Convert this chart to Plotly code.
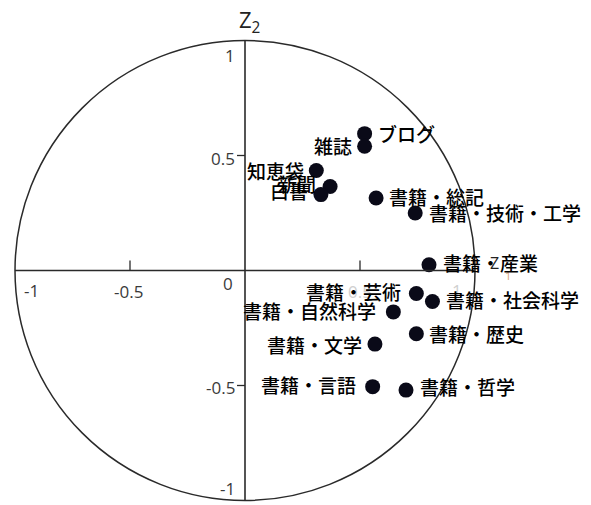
import plotly.graph_objects as go

# Component loadings on the first two principal components (Z1, Z2)
names = [
    "ブログ", "雑誌", "知恵袋", "新聞", "白書",
    "書籍・総記", "書籍・技術・工学", "書籍・産業", "書籍・芸術",
    "書籍・社会科学", "書籍・自然科学", "書籍・歴史", "書籍・文学",
    "書籍・言語", "書籍・哲学",
]
z1 = [0.52, 0.52, 0.31, 0.37, 0.33,
      0.57, 0.74, 0.80, 0.745,
      0.815, 0.645, 0.745, 0.565,
      0.555, 0.70]
z2 = [0.595, 0.54, 0.435, 0.365, 0.33,
      0.315, 0.25, 0.025, -0.10,
      -0.135, -0.18, -0.275, -0.32,
      -0.505, -0.52]

# label placement: side of the dot, pixel shifts
label_side = ["r", "l", "l", "l", "l",
              "r", "r", "r", "l",
              "r", "l", "r", "l",
              "l", "r"]
label_dx = [11, -11, -10, -12, -11,
            11, 12, 12, -13,
            12, -15, 11, -11,
            -15, 12]
label_dy = [0, 1, 0, 3, 4,
            2, 1, 2, 2,
            2, 1, 0, 0,
            2, 4]

x_ticks = [-1, -0.5, 0, 0.5, 1]
x_tick_text = ["-1", "-0.5", "0", "0.5", "1"]
y_ticks = [1, 0.5, -0.5, -1]
y_tick_text = ["1", "0.5", "-0.5", "-1"]

W, H = 591, 505
CX, CY, R = 245, 270.5, 230  # origin pixel and unit length
x_range = [-CX / R, (W - CX) / R]
y_range = [(CY - H) / R, CY / R]

AX = "#2a2a2a"
JP = "Noto Sans CJK JP"
NUM = "Open Sans"

fig = go.Figure()

fig.add_trace(go.Scatter(
    x=z1, y=z2, mode="markers",
    marker=dict(size=15, color="#0a0a18", line=dict(width=0)),
    hoverinfo="text", text=names, showlegend=False,
))

shapes = [
    # unit circle
    dict(type="circle", xref="x", yref="y", x0=-1, y0=-1, x1=1, y1=1,
         line=dict(color=AX, width=1.5)),
    # axes through the origin
    dict(type="line", xref="x", yref="y", x0=-1, y0=0, x1=1, y1=0,
         line=dict(color=AX, width=1.6)),
    dict(type="line", xref="x", yref="y", x0=0, y0=-1, x1=0, y1=1,
         line=dict(color=AX, width=1.6)),
]
tick_len = 10 / R
for v in x_ticks:
    if v in (-0.5, 0.5):
        shapes.append(dict(type="line", xref="x", yref="y", x0=v, x1=v,
                           y0=0, y1=tick_len, line=dict(color=AX, width=1.3)))
for v in y_ticks:
    if v in (-0.5, 0.5):
        shapes.append(dict(type="line", xref="x", yref="y", x0=-tick_len * 0.8, x1=0,
                           y0=v, y1=v, line=dict(color=AX, width=1.3)))

annotations = []

# x tick labels (the positive side is washed out)
x_tick_dx = {-1: 16, -0.5: -2, 0: -17, 0.5: 0, 1: -18}
x_tick_dy = {-1: -20, -0.5: -21, 0: -13, 0.5: -21, 1: -20}
for v, t in zip(x_ticks, x_tick_text):
    faint = v > 0
    annotations.append(dict(
        x=v, y=0, xref="x", yref="y", text=t, showarrow=False,
        xanchor="center", yanchor="middle",
        xshift=x_tick_dx[v], yshift=x_tick_dy[v],
        font=dict(family=NUM, size=17, color="#d0d0d0" if faint else "#3a3a3a"),
    ))

# y tick labels
y_tick_dy = {1: -14.5, 0.5: -2.5, -0.5: -1.5, -1: 12.5}
for v, t in zip(y_ticks, y_tick_text):
    annotations.append(dict(
        x=0, y=v, xref="x", yref="y", text=t, showarrow=False,
        xanchor="right", yanchor="middle",
        xshift=-8, yshift=y_tick_dy[v],
        font=dict(family=NUM, size=17, color="#3a3a3a"),
    ))

# axis titles
annotations.append(dict(
    x=0, y=1, xref="x", yref="y", text="Z<sub>2</sub>", showarrow=False,
    xanchor="center", yanchor="bottom", xshift=4, yshift=1,
    font=dict(family=NUM, size=22, color="#222222"),
))
annotations.append(dict(
    x=1, y=0, xref="x", yref="y", text="Z", showarrow=False,
    xanchor="center", yanchor="middle", xshift=19, yshift=8,
    font=dict(family=NUM, size=16, color="#222222"),
))
annotations.append(dict(
    x=1, y=0, xref="x", yref="y", text="1", showarrow=False,
    xanchor="center", yanchor="middle", xshift=33, yshift=-5,
    font=dict(family=NUM, size=11, color="#d9a070"),
))

# point labels
for n, x, y, s, dx, dy in zip(names, z1, z2, label_side, label_dx, label_dy):
    annotations.append(dict(
        x=x, y=y, xref="x", yref="y", text=n, showarrow=False,
        xanchor="left" if s == "r" else "right", yanchor="middle",
        xshift=dx, yshift=dy,
        font=dict(family=JP, size=19, color="#000000", weight=500),
    ))

fig.update_layout(
    width=W, height=H,
    margin=dict(l=0, r=0, t=0, b=0),
    paper_bgcolor="white", plot_bgcolor="white",
    xaxis=dict(range=x_range, visible=False, fixedrange=True),
    yaxis=dict(range=y_range, visible=False, fixedrange=True),
    shapes=shapes, annotations=annotations,
    showlegend=False,
)

fig.write_html("out.html", config={"displayModeBar": False})
